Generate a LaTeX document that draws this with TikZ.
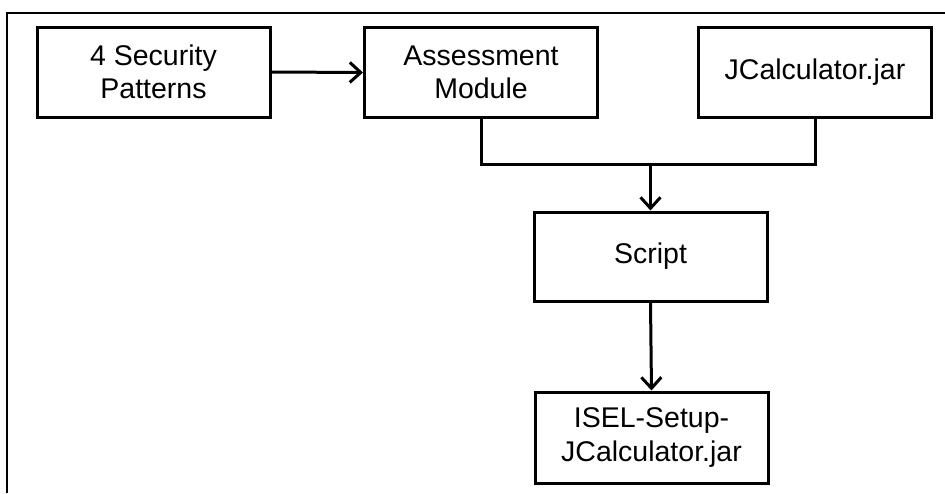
\documentclass[tikz,border=0pt]{standalone}
\usepackage{fontspec}
\setmainfont{Liberation Sans}
\usetikzlibrary{arrows.meta}
\begin{document}
\begin{tikzpicture}[x=1pt,y=-1pt,
  box/.style={draw=black,line width=3pt,minimum width=233pt,minimum height=90pt,align=center,inner sep=0pt,font=\fontsize{28.5}{33}\selectfont},
  conn/.style={draw=black,line width=3pt,line join=miter},
  arr/.style={conn,-{Straight Barb[length=11pt,width=20pt,line width=3pt]}}]
\useasboundingbox (0,0) rectangle (945,493);
\draw[line width=2pt] (7,493) -- (7,13) -- (945,13);
\node[box] (sp) at (153.5,72) {4 Security\\Patterns};
\node[box] (am) at (481,72.5) {Assessment\\Module};
\node[box] (jc) at (815,72) {JCalculator.jar};
\node[box,minimum height=89pt] (sc) at (650.5,256.5) {Script};
\node[box,minimum height=91pt] (is) at (651.5,437.5) {ISEL-Setup-\\JCalculator.jar};
\coordinate (j) at (650.5,164);
\draw[arr] (sp.east) -- (am.west);
\draw[conn] (am.south) |- (j) -| (jc.south);
\draw[arr] (j) -- (sc.north);
\draw[arr] (sc.south) -- (is.north);
\end{tikzpicture}
\end{document}
